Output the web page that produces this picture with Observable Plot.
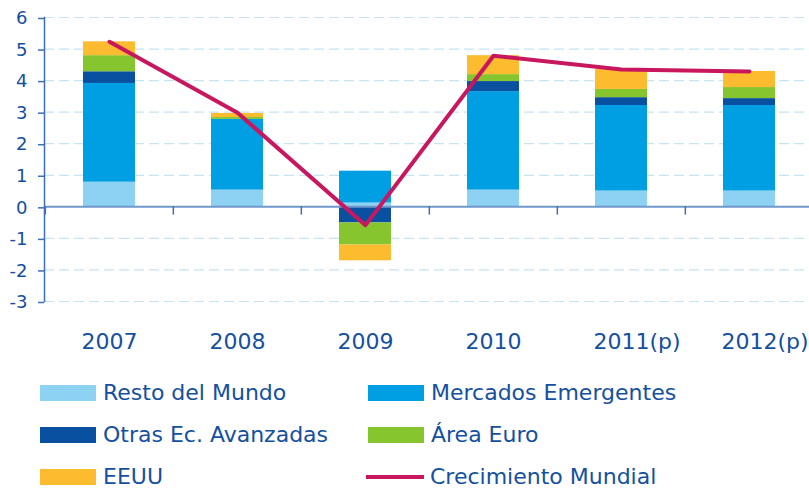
<!DOCTYPE html>
<html>
<head>
<meta charset="utf-8">
<script src="https://cdn.jsdelivr.net/npm/d3@7"></script>
<script src="https://cdn.jsdelivr.net/npm/@observablehq/plot@0.6"></script>
<style>
  body { margin: 0; background: #fff; font-family: "DejaVu Sans", sans-serif; }
  #wrap { position: relative; width: 809px; height: 489px; }
  .item { position: absolute; display: flex; align-items: center; font-size: 22px; color: #1450a0; line-height: 1; white-space: nowrap; }
  .sw { width: 56px; height: 16px; margin-right: 7px; }
  .ln { width: 58px; height: 4px; margin-right: 6px; }
</style>
</head>
<body>
<div id="wrap"></div>
<script>
const years = ["2007", "2008", "2009", "2010", "2011(p)", "2012(p)"];
const series = ["Resto del Mundo", "Mercados Emergentes", "Otras Ec. Avanzadas", "Área Euro", "EEUU"];
const colors = ["#8dd1f3", "#009fe3", "#0a50a1", "#86c52d", "#fdbb2f"];
const resto = [0.78, 0.53, 0.12, 0.53, 0.50, 0.50];
const emergentes = [3.13, 2.24, 1.01, 3.12, 2.71, 2.71];
const otras = [0.37, 0.00, -0.51, 0.32, 0.25, 0.22];
const euro = [0.51, 0.06, -0.70, 0.22, 0.26, 0.35];
const eeuu = [0.44, 0.13, -0.50, 0.60, 0.63, 0.51];
const mundial = [5.23, 2.98, -0.58, 4.79, 4.35, 4.29];
const lineName = "Crecimiento Mundial";
const lineColor = "#c8175e";
const yTicks = [-3, -2, -1, 0, 1, 2, 3, 4, 5, 6];
const gridTicks = yTicks.filter(d => d !== 0);

const seriesValues = [resto, emergentes, otras, euro, eeuu];
const bars = [];
series.forEach((s, i) => years.forEach((y, j) => bars.push({year: y, series: s, value: seriesValues[i][j]})));
const line = years.map((y, j) => ({year: y, value: mundial[j]}));

const W = 809, H = 360, mL = 44, mR = -5;
const bw = (W - mL - mR) / years.length;
const textColor = "#1450a0";

const chart = Plot.plot({
  width: W, height: H,
  marginLeft: mL, marginRight: mR, marginTop: 17, marginBottom: 59,
  style: {fontFamily: "DejaVu Sans, sans-serif", overflow: "visible"},
  x: {type: "band", domain: years, padding: 0},
  y: {domain: [-3, 6]},
  color: {domain: series, range: colors},
  marks: [
    Plot.ruleY(gridTicks, {stroke: "#c6e4f2", strokeWidth: 1.2, strokeDasharray: "10,5"}),
    Plot.barY(bars, {x: "year", y: "value", fill: "series", order: series, insetLeft: 38, insetRight: 38}),
    Plot.ruleY([0], {stroke: "#6f97cc", strokeWidth: 2}),
    Plot.ruleX(years, {x: d => d, y1: 0, y2: -0.26, dx: -bw / 2, stroke: "#3d6fb3", strokeWidth: 1.5}),
    Plot.frame({anchor: "left", stroke: "#3d6fb3", strokeWidth: 1.5}),
    Plot.axisY({ticks: yTicks, tickSize: 6, tickPadding: 11, fontSize: 18, fill: textColor, stroke: "#3d6fb3", strokeWidth: 1.5, label: null, tickFormat: d => String(d), dy: 1}),
    Plot.axisX({tickSize: 0, tickPadding: 32, fontSize: 22, fill: textColor, label: null, textAnchor: "start", dx: -28}),
    Plot.line(line, {x: "year", y: "value", stroke: lineColor, strokeWidth: 4})
  ]
});
const wrap = document.getElementById("wrap");
wrap.appendChild(chart);

const items = [
  {label: series[0], color: colors[0], left: 40, top: 393},
  {label: series[1], color: colors[1], left: 368, top: 393},
  {label: series[2], color: colors[2], left: 40, top: 435},
  {label: series[3], color: colors[3], left: 368, top: 435},
  {label: series[4], color: colors[4], left: 40, top: 477},
  {label: lineName, color: lineColor, left: 366, top: 477, line: true}
];
items.forEach(it => {
  const d = document.createElement("div");
  d.className = "item";
  d.style.left = it.left + "px";
  d.style.top = (it.top - 12) + "px";
  d.style.height = "24px";
  const s = document.createElement("span");
  s.className = it.line ? "ln" : "sw";
  s.style.background = it.color;
  d.appendChild(s);
  const t = document.createElement("span");
  t.textContent = it.label;
  d.appendChild(t);
  wrap.appendChild(d);
});
</script>
</body>
</html>
